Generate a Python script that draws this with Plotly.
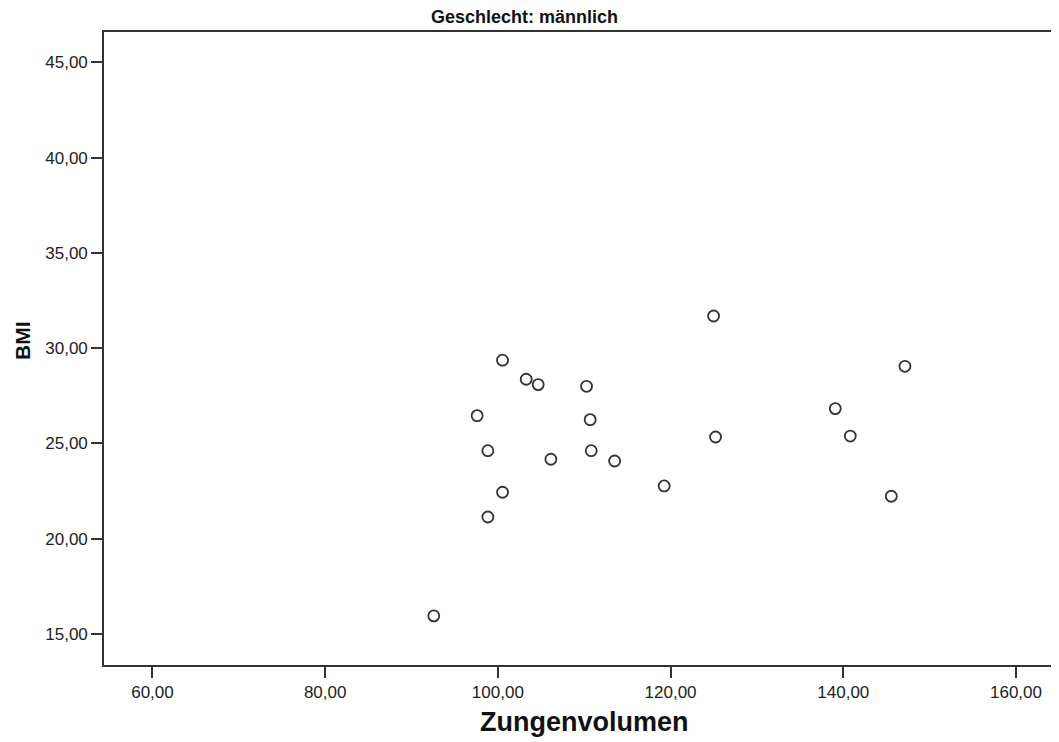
import plotly.graph_objects as go

# Zungenvolumen vs. BMI, Geschlecht: männlich
zungenvolumen = [124.98, 100.54, 103.28, 104.67, 110.27, 147.14, 97.60, 110.69, 139.07, 98.84,
                 110.81, 106.14, 113.52, 125.21, 140.81, 119.26, 100.54, 145.56, 98.84, 92.58]
bmi = [31.69, 29.37, 28.37, 28.09, 28.00, 29.05, 26.46, 26.25, 26.83, 24.62,
       24.62, 24.17, 24.08, 25.34, 25.39, 22.77, 22.44, 22.23, 21.14, 15.95]

x_ticks = [60, 80, 100, 120, 140, 160]
y_ticks = [15, 20, 25, 30, 35, 40, 45]

# page body has an 8px margin, so the figure is drawn 8px in from the corner
W, H = 1051, 734
L, R, T, B = 96, 0, 24, 77
PW, PH = W - L - R, H - T - B

FONT = "Liberation Sans, Arial"

fig = go.Figure()
fig.add_trace(
    go.Scatter(
        x=zungenvolumen,
        y=bmi,
        mode="markers",
        marker={
            "symbol": "circle-open",
            "size": 11,
            "color": "#333333",
            "line": {"width": 1.8, "color": "#333333"},
        },
        hoverinfo="x+y",
    )
)

axis_common = {
    "showgrid": False,
    "zeroline": False,
    "showline": True,
    "linecolor": "#333333",
    "linewidth": 1.6,
    "ticks": "outside",
    "ticklen": 11,
    "tickwidth": 1.6,
    "tickcolor": "#333333",
    "tickformat": ".2f",
    "tickfont": {"family": FONT, "size": 17, "color": "#222222"},
}

fig.update_xaxes(**axis_common, range=[54.39, 164.98], tickvals=x_ticks, mirror=True)
fig.update_yaxes(**axis_common, range=[13.37, 46.6], tickvals=y_ticks)

titles = [
    # text, paper x, paper y, xshift, yshift, size, angle
    ("<b>Geschlecht: männlich</b>", (516 - L) / PW, 1, 0, 15, 18, 0),
    ("<b>Zungenvolumen</b>", (576 - L) / PW, 0, 0, -57, 27, 0),
    ("<b>BMI</b>", 0, (H - B - 333) / PH, -82, 0, 21, -90),
]
for text, px, py, xs, ys, size, angle in titles:
    fig.add_annotation(
        text=text,
        xref="paper",
        yref="paper",
        x=px,
        y=py,
        xshift=xs,
        yshift=ys,
        xanchor="center",
        yanchor="middle",
        textangle=angle,
        showarrow=False,
        font={"family": FONT, "size": size, "color": "#111111"},
    )

fig.update_layout(
    width=W,
    height=H,
    margin={"l": L, "r": R, "t": T, "b": B},
    plot_bgcolor="white",
    paper_bgcolor="white",
    separators=",.",
    showlegend=False,
)

fig.write_html("out.html")
